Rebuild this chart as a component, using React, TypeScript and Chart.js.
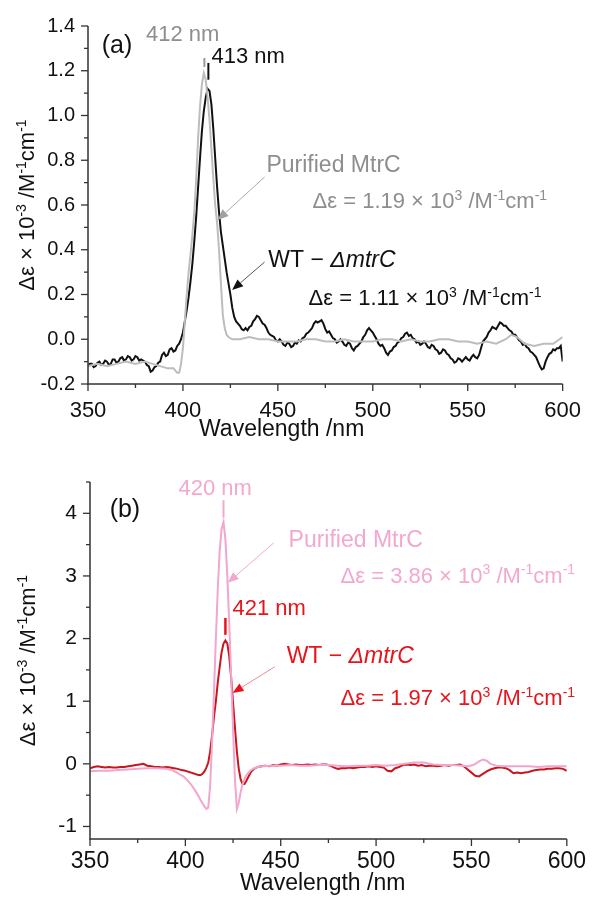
import React, { useEffect, useRef } from 'react';
import { Chart, registerables } from 'chart.js';

Chart.register(...registerables);

const FONT = '"Liberation Sans", Arial, Helvetica, sans-serif';

// ---------- Panel (a) data: [wavelength nm, Δε ×10^-3] ----------
const wtMinusMtrC_A: [number, number][] = [
  [350,-0.12],[351,-0.11],[352,-0.11],[353,-0.125],[354,-0.12],[355,-0.105],[356,-0.10],[357,-0.115],[358,-0.11],[359,-0.095],
  [360,-0.10],[361,-0.115],[362,-0.11],[363,-0.09],[364,-0.09],[365,-0.105],[366,-0.10],[367,-0.085],[368,-0.08],[369,-0.095],
  [370,-0.09],[371,-0.075],[372,-0.08],[373,-0.095],[374,-0.09],[375,-0.075],[376,-0.08],[377,-0.095],[378,-0.09],[379,-0.095],
  [380,-0.10],[381,-0.115],[382,-0.12],[383,-0.145],[384,-0.14],[385,-0.125],[386,-0.12],[387,-0.105],[388,-0.10],[389,-0.07],
  [390,-0.06],[391,-0.075],[392,-0.07],[393,-0.045],[394,-0.04],[395,-0.055],[396,-0.05],[397,-0.03],[398,-0.02],[399,0.00],
  [400,0.03],[401,0.08],[402,0.13],[403,0.19],[404,0.26],[405,0.34],[406,0.44],[407,0.55],[408,0.68],[409,0.81],
  [410,0.93],[411,1.02],[412,1.08],[413,1.12],[414,1.11],[415,1.05],[416,0.94],[417,0.81],[418,0.68],[419,0.57],
  [420,0.48],[421,0.42],[422,0.36],[423,0.30],[424,0.25],[425,0.20],[426,0.14],[427,0.10],[428,0.08],[429,0.07],
  [430,0.06],[431,0.045],[432,0.04],[433,0.05],[434,0.04],[435,0.055],[436,0.06],[437,0.08],[438,0.09],[439,0.105],
  [440,0.10],[441,0.085],[442,0.07],[443,0.065],[444,0.05],[445,0.03],[446,0.02],[447,0.015],[448,0.01],[449,-0.005],
  [450,-0.01],[451,0.00],[452,-0.01],[453,-0.025],[454,-0.03],[455,-0.015],[456,-0.02],[457,-0.035],[458,-0.03],[459,-0.015],
  [460,-0.02],[461,-0.005],[462,-0.01],[463,0.005],[464,0.01],[465,0.025],[466,0.03],[467,0.04],[468,0.05],[469,0.07],
  [470,0.08],[471,0.075],[472,0.08],[473,0.085],[474,0.07],[475,0.045],[476,0.03],[477,0.035],[478,0.02],[479,0.005],
  [480,0.00],[481,-0.015],[482,-0.01],[483,0.00],[484,-0.01],[485,-0.025],[486,-0.03],[487,-0.015],[488,-0.02],[489,-0.04],
  [490,-0.05],[491,-0.035],[492,-0.03],[493,-0.02],[494,-0.01],[495,0.01],[496,0.02],[497,0.04],[498,0.05],[499,0.04],
  [500,0.03],[501,0.015],[502,0.00],[503,-0.02],[504,-0.03],[505,-0.025],[506,-0.04],[507,-0.06],[508,-0.07],[509,-0.055],
  [510,-0.05],[511,-0.035],[512,-0.03],[513,-0.015],[514,-0.01],[515,0.005],[516,0.01],[517,0.025],[518,0.03],[519,0.015],
  [520,0.02],[521,0.005],[522,0.00],[523,-0.015],[524,-0.01],[525,-0.025],[526,-0.02],[527,-0.01],[528,-0.02],[529,-0.035],
  [530,-0.04],[531,-0.025],[532,-0.03],[533,-0.045],[534,-0.05],[535,-0.065],[536,-0.06],[537,-0.045],[538,-0.05],[539,-0.065],
  [540,-0.07],[541,-0.085],[542,-0.09],[543,-0.105],[544,-0.10],[545,-0.085],[546,-0.09],[547,-0.10],[548,-0.09],[549,-0.08],
  [550,-0.09],[551,-0.095],[552,-0.08],[553,-0.07],[554,-0.08],[555,-0.085],[556,-0.07],[557,-0.04],[558,-0.01],[559,0.00],
  [560,0.01],[561,0.03],[562,0.04],[563,0.055],[564,0.05],[565,0.045],[566,0.06],[567,0.075],[568,0.07],[569,0.06],
  [570,0.06],[571,0.05],[572,0.04],[573,0.035],[574,0.02],[575,0.02],[576,0.01],[577,-0.005],[578,-0.01],[579,-0.025],
  [580,-0.02],[581,-0.035],[582,-0.04],[583,-0.055],[584,-0.06],[585,-0.07],[586,-0.08],[587,-0.10],[588,-0.12],[589,-0.135],
  [590,-0.13],[591,-0.10],[592,-0.08],[593,-0.065],[594,-0.06],[595,-0.045],[596,-0.05],[597,-0.04],[598,-0.04],[599,-0.03],
  [600,-0.10],
];

const purifiedMtrC_A: [number, number][] = [
  [350,-0.12],[355,-0.11],[360,-0.12],[365,-0.11],[370,-0.10],[375,-0.11],[380,-0.10],[384,-0.11],[388,-0.12],[392,-0.13],
  [395,-0.13],[397,-0.15],[398,-0.15],[399,-0.11],[400,-0.04],[401,0.08],[402,0.20],[403,0.30],[404,0.38],[405,0.47],
  [406,0.57],[407,0.72],[408,0.90],[409,1.04],[410,1.14],[411,1.19],[412,1.16],[413,1.08],[414,0.98],[415,0.85],
  [416,0.72],[417,0.60],[418,0.52],[419,0.40],[420,0.25],[421,0.11],[422,0.05],[423,0.02],[424,0.01],[426,0.00],
  [430,0.00],[435,0.01],[440,0.00],[445,0.00],[450,-0.01],[455,-0.01],[460,-0.01],[465,0.00],[470,0.00],[475,-0.01],
  [480,-0.01],[485,0.00],[490,-0.01],[495,-0.01],[500,-0.01],[505,0.00],[510,0.00],[515,-0.01],[520,0.00],[525,-0.01],
  [530,-0.01],[535,0.00],[540,0.00],[545,-0.01],[550,-0.01],[555,-0.02],[560,-0.01],[565,-0.02],[570,0.00],[573,0.02],
  [576,0.01],[580,-0.02],[585,-0.03],[590,-0.02],[595,-0.02],[600,0.01],
];

// ---------- Panel (b) data ----------
const wtMinusMtrC_B: [number, number][] = [
  [350,-0.07],[352,-0.05],[354,-0.04],[356,-0.05],[358,-0.06],[360,-0.05],[362,-0.06],[364,-0.06],[366,-0.05],[368,-0.05],
  [370,-0.04],[372,-0.03],[374,-0.02],[376,-0.01],[378,0.00],[380,-0.03],[382,-0.04],[384,-0.05],[386,-0.05],[388,-0.06],
  [390,-0.05],[392,-0.06],[394,-0.07],[396,-0.08],[398,-0.10],[400,-0.11],[401,-0.12],[402,-0.13],[403,-0.14],[404,-0.15],
  [405,-0.16],[406,-0.17],[407,-0.18],[408,-0.18],[409,-0.16],[410,-0.12],[411,-0.06],[412,0.02],[413,0.20],[414,0.45],
  [415,0.75],[416,1.00],[417,1.30],[418,1.55],[419,1.78],[420,1.92],[421,1.97],[422,1.92],[423,1.72],[424,1.38],
  [425,0.98],[426,0.58],[427,0.20],[428,-0.08],[429,-0.25],[430,-0.32],[431,-0.32],[432,-0.27],[433,-0.21],[434,-0.15],
  [435,-0.11],[436,-0.08],[438,-0.05],[440,-0.04],[442,-0.03],[444,-0.04],[446,-0.02],[448,-0.03],[450,-0.01],[452,0.00],
  [454,-0.01],[456,-0.02],[458,-0.01],[460,-0.02],[462,-0.02],[464,-0.01],[466,-0.02],[468,-0.01],[470,-0.02],[472,-0.01],
  [474,-0.01],[476,-0.03],[478,-0.06],[480,-0.08],[482,-0.07],[484,-0.07],[486,-0.06],[488,-0.07],[490,-0.06],[492,-0.05],
  [494,-0.05],[496,-0.04],[498,-0.05],[500,-0.04],[502,-0.05],[504,-0.06],[506,-0.11],[508,-0.12],[510,-0.07],[512,-0.05],
  [514,-0.02],[516,-0.01],[518,-0.02],[520,-0.01],[522,-0.03],[524,-0.02],[526,-0.04],[528,-0.03],[530,-0.03],[532,-0.04],
  [534,-0.03],[536,-0.02],[538,-0.03],[540,-0.02],[542,-0.02],[544,-0.01],[546,-0.04],[548,-0.09],[550,-0.14],[552,-0.19],
  [554,-0.20],[556,-0.16],[558,-0.12],[560,-0.09],[562,-0.07],[564,-0.06],[566,-0.06],[568,-0.07],[570,-0.10],[572,-0.15],
  [574,-0.14],[576,-0.15],[578,-0.14],[580,-0.13],[582,-0.11],[584,-0.10],[586,-0.09],[588,-0.09],[590,-0.08],[592,-0.08],
  [594,-0.07],[596,-0.07],[598,-0.08],[600,-0.11],
];

const purifiedMtrC_B: [number, number][] = [
  [350,-0.12],[355,-0.11],[360,-0.11],[365,-0.10],[370,-0.09],[375,-0.08],[380,-0.07],[385,-0.07],[390,-0.08],[393,-0.10],
  [395,-0.13],[397,-0.17],[399,-0.20],[401,-0.26],[403,-0.33],[405,-0.42],[407,-0.52],[408,-0.58],[409,-0.63],[410,-0.68],
  [411,-0.72],[412,-0.70],[413,-0.35],[414,0.35],[415,1.15],[416,2.00],[417,2.80],[418,3.40],[419,3.75],[420,3.86],
  [421,3.58],[422,3.00],[423,2.25],[424,1.40],[425,0.55],[426,-0.25],[427,-0.72],[428,-0.62],[429,-0.45],[430,-0.33],
  [431,-0.24],[432,-0.18],[434,-0.11],[436,-0.07],[438,-0.05],[440,-0.04],[445,-0.03],[450,-0.03],[455,-0.02],[460,-0.03],
  [465,-0.03],[470,-0.02],[475,-0.02],[480,-0.03],[485,-0.04],[490,-0.03],[495,-0.03],[500,-0.02],[505,-0.03],[510,-0.02],
  [515,0.00],[520,0.02],[525,0.02],[530,-0.01],[535,-0.02],[540,-0.02],[545,-0.03],[548,-0.04],[551,-0.02],[554,0.04],
  [556,0.07],[558,0.05],[560,0.00],[563,-0.03],[566,-0.04],[570,-0.04],[575,-0.04],[580,-0.04],[585,-0.05],[590,-0.04],
  [595,-0.04],[600,-0.04],
];

// ---------- Ticks ----------
const xMajorTicks = [350, 400, 450, 500, 550, 600];
const xMinorTicks = [375, 425, 475, 525, 575];
const yMajorTicksA = [-0.2, 0, 0.2, 0.4, 0.6, 0.8, 1.0, 1.2, 1.4];
const yMinorTicksA = [-0.1, 0.1, 0.3, 0.5, 0.7, 0.9, 1.1, 1.3];
const yMajorTicksB = [-1, 0, 1, 2, 3, 4];
const yMinorTicksB = [-0.5, 0.5, 1.5, 2.5, 3.5, 4.5];

// ---------- Text helpers ----------
type Seg = { t: string; sup?: boolean; it?: boolean };
const segFont = (s: Seg, size: number) =>
  `${s.it ? 'italic ' : ''}${s.sup ? Math.round(size * 0.62) : size}px ${FONT}`;

function richWidth(ctx: CanvasRenderingContext2D, segs: Seg[], size: number) {
  let w = 0;
  for (const s of segs) {
    ctx.font = segFont(s, size);
    w += ctx.measureText(s.t).width;
  }
  return w;
}

function drawRich(ctx: CanvasRenderingContext2D, segs: Seg[], x: number, y: number, size: number, color: string, align: 'left' | 'center' = 'left') {
  ctx.save();
  ctx.fillStyle = color;
  ctx.textBaseline = 'alphabetic';
  ctx.textAlign = 'left';
  let cx = align === 'center' ? x - richWidth(ctx, segs, size) / 2 : x;
  for (const s of segs) {
    ctx.font = segFont(s, size);
    ctx.fillText(s.t, cx, s.sup ? y - size * 0.38 : y);
    cx += ctx.measureText(s.t).width;
  }
  ctx.restore();
}

const yTitleSegs: Seg[] = [
  { t: 'Δε × 10' }, { t: '-3', sup: true }, { t: ' /M' }, { t: '-1', sup: true }, { t: 'cm' }, { t: '-1', sup: true },
];
const epsSegs = (v: string): Seg[] => [
  { t: `Δε = ${v} × 10` }, { t: '3', sup: true }, { t: ' /M' }, { t: '-1', sup: true }, { t: 'cm' }, { t: '-1', sup: true },
];
const wtSegs: Seg[] = [{ t: 'WT − ' }, { t: 'ΔmtrC', it: true }];

type Note =
  | { kind: 'text'; x: number; y: number; segs: Seg[]; size: number; color: string }
  | { kind: 'mark'; x: number; y1: number; y2: number; color: string; width: number }
  | { kind: 'arrow'; x1: number; y1: number; x2: number; y2: number; line: string; head: string };

const GRAY_TEXT = '#8e8e8e';
const PINK = '#f3a8cf';
const RED_TEXT = '#e8141b';

const notesA: Note[] = [
  { kind: 'text', x: 357.2, y: 1.28, segs: [{ t: '(a)' }], size: 25, color: '#111' },
  { kind: 'text', x: 380.5, y: 1.333, segs: [{ t: '412 nm' }], size: 22, color: GRAY_TEXT },
  { kind: 'mark', x: 411.3, y1: 1.257, y2: 1.217, color: '#999', width: 2 },
  { kind: 'text', x: 415, y: 1.235, segs: [{ t: '413 nm' }], size: 22, color: '#111' },
  { kind: 'mark', x: 413.4, y1: 1.235, y2: 1.16, color: '#111', width: 2 },
  { kind: 'text', x: 444, y: 0.749, segs: [{ t: 'Purified MtrC' }], size: 23, color: GRAY_TEXT },
  { kind: 'text', x: 468.3, y: 0.587, segs: epsSegs('1.19'), size: 22, color: GRAY_TEXT },
  { kind: 'arrow', x1: 443, y1: 0.725, x2: 418.2, y2: 0.533, line: '#ababab', head: '#a0a0a0' },
  { kind: 'text', x: 445, y: 0.323, segs: wtSegs, size: 23, color: '#111' },
  { kind: 'text', x: 466.2, y: 0.153, segs: epsSegs('1.11'), size: 22, color: '#111' },
  { kind: 'arrow', x1: 443, y1: 0.345, x2: 425.9, y2: 0.22, line: '#555', head: '#111' },
];

const notesB: Note[] = [
  { kind: 'text', x: 360.3, y: 3.94, segs: [{ t: '(b)' }], size: 25, color: '#111' },
  { kind: 'text', x: 396.4, y: 4.29, segs: [{ t: '420 nm' }], size: 22, color: PINK },
  { kind: 'mark', x: 420, y1: 4.21, y2: 3.93, color: PINK, width: 2 },
  { kind: 'text', x: 454.1, y: 3.46, segs: [{ t: 'Purified MtrC' }], size: 23, color: PINK },
  { kind: 'text', x: 481.4, y: 2.89, segs: epsSegs('3.86'), size: 22, color: PINK },
  { kind: 'arrow', x1: 446.4, y1: 3.53, x2: 422.2, y2: 2.89, line: PINK, head: PINK },
  { kind: 'text', x: 424.7, y: 2.38, segs: [{ t: '421 nm' }], size: 22, color: RED_TEXT },
  { kind: 'mark', x: 421, y1: 2.33, y2: 2.06, color: RED_TEXT, width: 2.5 },
  { kind: 'text', x: 453.1, y: 1.61, segs: wtSegs, size: 23, color: RED_TEXT },
  { kind: 'text', x: 481.4, y: 0.94, segs: epsSegs('1.97'), size: 22, color: RED_TEXT },
  { kind: 'arrow', x1: 446.9, y1: 1.55, x2: 424.7, y2: 1.13, line: '#f08a8a', head: RED_TEXT },
];

type PanelCfg = {
  height: number;
  padTop: number;
  padRight: number;
  yAxisWidth: number;
  xAxisHeight: number;
  yMin: number;
  yMax: number;
  yMajor: number[];
  yMinor: number[];
  yFmt: (v: number) => string;
  xTickPad: number;
  xTickSize: number;
  yTickSize: number;
  series: { data: [number, number][]; color: string; width: number }[];
  notes: Note[];
  yTitleX: number;
  xTitleCenter: number;
  xTitleOffset: number;
};

const panelA: PanelCfg = {
  height: 450,
  padTop: 26,
  padRight: 23,
  yAxisWidth: 88,
  xAxisHeight: 66,
  yMin: -0.2,
  yMax: 1.4,
  yMajor: yMajorTicksA,
  yMinor: yMinorTicksA,
  yFmt: (v) => v.toFixed(1),
  xTickPad: 14,
  xTickSize: 22,
  yTickSize: 20,
  series: [
    { data: purifiedMtrC_A, color: '#bdbdbd', width: 2 },
    { data: wtMinusMtrC_A, color: '#111111', width: 2 },
  ],
  notes: notesA,
  yTitleX: 34,
  xTitleCenter: 452,
  xTitleOffset: 52,
};

const panelB: PanelCfg = {
  height: 452,
  padTop: 32,
  padRight: 20,
  yAxisWidth: 90,
  xAxisHeight: 63,
  yMin: -1.2,
  yMax: 4.5,
  yMajor: yMajorTicksB,
  yMinor: yMinorTicksB,
  yFmt: (v) => String(v),
  xTickPad: 9,
  xTickSize: 23,
  yTickSize: 21,
  series: [
    { data: purifiedMtrC_B, color: '#f2a6cd', width: 2 },
    { data: wtMinusMtrC_B, color: '#c8161e', width: 2 },
  ],
  notes: notesB,
  yTitleX: 35,
  xTitleCenter: 472,
  xTitleOffset: 51,
};

function makePlugin(cfg: PanelCfg) {
  return {
    id: 'decor',
    afterDraw(chart: any) {
      const { ctx, chartArea, scales } = chart;
      const xs = scales.x;
      const ys = scales.y;
      const { left, right, top, bottom } = chartArea;
      ctx.save();
      ctx.strokeStyle = '#333';
      ctx.lineWidth = 1.5;
      ctx.beginPath();
      ctx.moveTo(left, top);
      ctx.lineTo(left, bottom);
      ctx.lineTo(right, bottom);
      ctx.stroke();
      ctx.lineWidth = 1.3;
      const tick = (x1: number, y1: number, x2: number, y2: number) => {
        ctx.beginPath();
        ctx.moveTo(x1, y1);
        ctx.lineTo(x2, y2);
        ctx.stroke();
      };
      xMajorTicks.forEach((v) => { const p = xs.getPixelForValue(v); tick(p, bottom, p, bottom + 7); });
      xMinorTicks.forEach((v) => { const p = xs.getPixelForValue(v); tick(p, bottom, p, bottom + 4); });
      cfg.yMajor.forEach((v) => { const p = ys.getPixelForValue(v); tick(left - 7, p, left, p); });
      cfg.yMinor.forEach((v) => { const p = ys.getPixelForValue(v); tick(left - 4, p, left, p); });

      // y title (rotated)
      ctx.save();
      ctx.translate(cfg.yTitleX, (top + bottom) / 2);
      ctx.rotate(-Math.PI / 2);
      drawRich(ctx, yTitleSegs, 0, 0, 22, '#111', 'center');
      ctx.restore();

      // x title
      drawRich(ctx, [{ t: 'Wavelength /nm' }], xs.getPixelForValue(cfg.xTitleCenter), bottom + cfg.xTitleOffset, 23, '#111', 'center');

      // annotations
      for (const n of cfg.notes) {
        if (n.kind === 'text') {
          drawRich(ctx, n.segs, xs.getPixelForValue(n.x), ys.getPixelForValue(n.y), n.size, n.color);
        } else if (n.kind === 'mark') {
          const px = xs.getPixelForValue(n.x);
          ctx.strokeStyle = n.color;
          ctx.lineWidth = n.width;
          tick(px, ys.getPixelForValue(n.y1), px, ys.getPixelForValue(n.y2));
        } else {
          const x1 = xs.getPixelForValue(n.x1);
          const y1 = ys.getPixelForValue(n.y1);
          const x2 = xs.getPixelForValue(n.x2);
          const y2 = ys.getPixelForValue(n.y2);
          const ang = Math.atan2(y2 - y1, x2 - x1);
          const L = 11;
          const W = 4.5;
          const bx = x2 - L * Math.cos(ang);
          const by = y2 - L * Math.sin(ang);
          ctx.strokeStyle = n.line;
          ctx.lineWidth = 1;
          tick(x1, y1, bx, by);
          ctx.fillStyle = n.head;
          ctx.beginPath();
          ctx.moveTo(x2, y2);
          ctx.lineTo(bx + W * Math.sin(ang), by - W * Math.cos(ang));
          ctx.lineTo(bx - W * Math.sin(ang), by + W * Math.cos(ang));
          ctx.closePath();
          ctx.fill();
        }
      }
      ctx.restore();
    },
  };
}

function Panel({ cfg, top }: { cfg: PanelCfg; top: number }) {
  const ref = useRef<HTMLCanvasElement | null>(null);
  useEffect(() => {
    if (!ref.current) return;
    const chart = new Chart(ref.current, {
      type: 'line',
      data: {
        datasets: cfg.series.map((s) => ({
          data: s.data.map(([x, y]) => ({ x, y })),
          borderColor: s.color,
          borderWidth: s.width,
          pointRadius: 0,
          tension: 0,
          fill: false,
        })),
      },
      options: {
        animation: false,
        responsive: false,
        maintainAspectRatio: false,
        events: [],
        layout: { padding: { left: 0, right: cfg.padRight, top: cfg.padTop, bottom: 0 } },
        plugins: { legend: { display: false }, tooltip: { enabled: false } },
        scales: {
          x: {
            type: 'linear',
            min: 350,
            max: 600,
            grid: { display: false, drawTicks: false },
            border: { display: false },
            afterBuildTicks: (s: any) => { s.ticks = xMajorTicks.map((v) => ({ value: v })); },
            afterFit: (s: any) => { s.height = cfg.xAxisHeight; },
            ticks: {
              autoSkip: false,
              maxRotation: 0,
              padding: cfg.xTickPad,
              color: '#111',
              font: { family: FONT, size: cfg.xTickSize },
              callback: (v: any) => String(v),
            },
          },
          y: {
            type: 'linear',
            min: cfg.yMin,
            max: cfg.yMax,
            grid: { display: false, drawTicks: false },
            border: { display: false },
            afterBuildTicks: (s: any) => { s.ticks = cfg.yMajor.map((v) => ({ value: v })); },
            afterFit: (s: any) => { s.width = cfg.yAxisWidth; },
            ticks: {
              autoSkip: false,
              padding: 13,
              color: '#111',
              font: { family: FONT, size: cfg.yTickSize },
              callback: (v: any) => cfg.yFmt(Number(v)),
            },
          },
        },
      } as any,
      plugins: [makePlugin(cfg)],
    });
    return () => chart.destroy();
  }, [cfg]);
  return (
    <canvas
      ref={ref}
      width={595}
      height={cfg.height}
      style={{ position: 'absolute', left: 0, top, width: 595, height: cfg.height, display: 'block' }}
    />
  );
}

export default function App() {
  return (
    <div style={{ position: 'absolute', left: 0, top: 0, width: 595, height: 902, background: '#fff' }}>
      <Panel cfg={panelA} top={0} />
      <Panel cfg={panelB} top={450} />
    </div>
  );
}
